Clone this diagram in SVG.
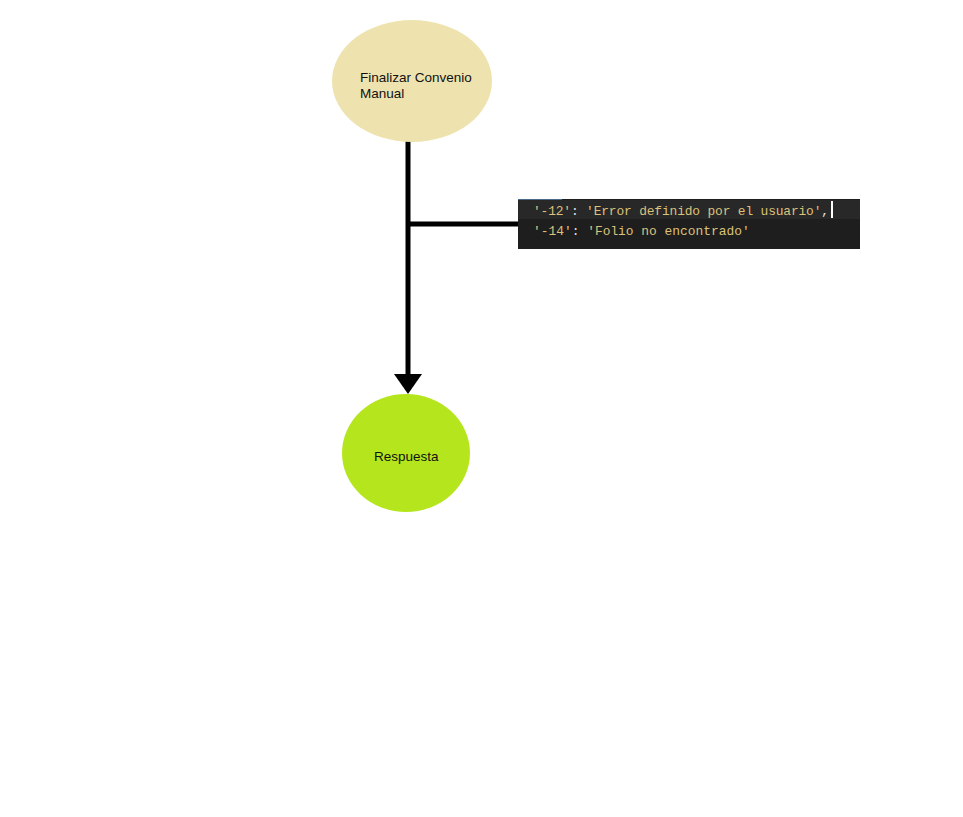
<svg xmlns="http://www.w3.org/2000/svg" width="963" height="817" viewBox="0 0 963 817">
  <style>
    .label { font-family: "Liberation Sans", Arial, sans-serif; font-size: 13.5px; fill: #111111; }
    .code { font-family: "Liberation Mono", "DejaVu Sans Mono", monospace; font-size: 12.9px; }
    .str { fill: #dcc27a; }
    .pun { fill: #e0e0e0; }
    .wire { stroke: #000000; stroke-width: 5; fill: none; }
  </style>
  <rect width="963" height="817" fill="#ffffff"/>

  <g id="connectors">
    <line class="wire" x1="408" y1="137" x2="408" y2="376"/>
    <path d="M394,374 L422,374 L408,394 Z" fill="#000000"/>
    <line class="wire" x1="408" y1="224" x2="519" y2="224"/>
  </g>

  <g id="node-finalizar">
    <ellipse cx="412" cy="81" rx="80" ry="61" fill="#eee3af"/>
    <text class="label" x="360" y="82">Finalizar Convenio</text>
    <text class="label" x="360" y="98">Manual</text>
  </g>

  <g id="node-respuesta">
    <ellipse cx="406" cy="453" rx="64" ry="59" fill="#b5e61d"/>
    <text class="label" x="374" y="461" font-size="13">Respuesta</text>
  </g>

  <g id="error-codes">
    <rect x="518" y="199" width="342" height="50" fill="#1e1e1e"/>
    <rect x="518" y="200" width="342" height="19" fill="#282828"/>
    <line x1="518" y1="199.5" x2="562" y2="199.5" stroke="#4a6a8a" stroke-width="1"/>
    <text class="code" x="533" y="215" textLength="296" lengthAdjust="spacing"><tspan class="str">'-12'</tspan><tspan class="pun">: </tspan><tspan class="str">'Error definido por el usuario'</tspan><tspan class="pun">,</tspan></text>
    <text class="code" x="533" y="235"><tspan class="str">'-14'</tspan><tspan class="pun">: </tspan><tspan class="str">'Folio no encontrado'</tspan></text>
    <rect x="831" y="201" width="2" height="17" fill="#ffffff"/>
  </g>
</svg>
